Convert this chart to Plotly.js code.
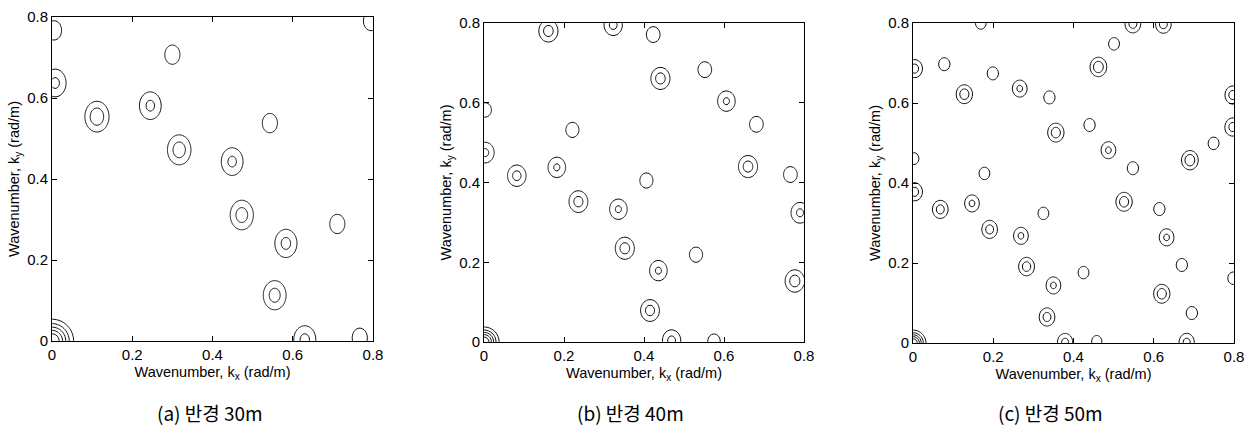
<!DOCTYPE html>
<html>
<head>
<meta charset="utf-8">
<script src="https://cdn.plot.ly/plotly-3.0.1.min.js"></script>
<style>html,body{margin:0;padding:0;background:#fff;}#chart{width:1250px;height:434px;}</style>
</head>
<body>
<div id="chart"></div>
<script>
// ---- Data: spectral peak centres (rad/m) and relative peak heights ----
// (a) radius 30 m
const a_kx  = [0.005, 0.300, 0.008, 0.112, 0.245, 0.543, 0.317, 0.449, 0.473, 0.711, 0.583, 0.555, 0.630, 0.767, 0.795];
const a_ky  = [0.767, 0.707, 0.637, 0.554, 0.581, 0.538, 0.472, 0.443, 0.311, 0.289, 0.241, 0.113, 0.003, 0.008, 0.790];
const a_amp = [1.40,  1.40,  2.00,  2.35,  2.00,  1.40,  2.25,  2.00,  2.20,  1.40,  2.05,  2.15,  2.05,  1.40,  1.40 ];
// (b) radius 40 m
const b_kx  = [0.161, 0.323, 0.423, 0.552, 0.441, 0.606, 0.681, 0.003, 0.221, 0.003, 0.082, 0.182, 0.406, 0.660, 0.766, 0.236, 0.336, 0.790, 0.352, 0.530, 0.436, 0.415, 0.777, 0.469, 0.575];
const b_ky  = [0.780, 0.795, 0.771, 0.683, 0.661, 0.604, 0.546, 0.582, 0.532, 0.475, 0.417, 0.438, 0.405, 0.440, 0.420, 0.352, 0.333, 0.324, 0.235, 0.219, 0.179, 0.079, 0.153, 0.004, 0.002];
const b_amp = [2.20,  2.05,  1.50,  1.50,  2.20,  1.95,  1.50,  1.40,  1.45,  2.00,  2.10,  1.95,  1.45,  2.20,  1.50,  2.15,  1.95,  2.00,  2.20,  1.45,  1.95,  2.15,  2.25,  2.05,  1.40 ];
// (c) radius 50 m
const c_kx  = [0.169, 0.548, 0.624, 0.501, 0.004, 0.078, 0.199, 0.462, 0.128, 0.266, 0.340, 0.797, 0.356, 0.440, 0.797, 0.487, 0.749, 0.690, 0.002, 0.178, 0.548, 0.004, 0.068, 0.147, 0.325, 0.526, 0.614, 0.191, 0.269, 0.632, 0.283, 0.425, 0.670, 0.350, 0.620, 0.798, 0.334, 0.695, 0.379, 0.458, 0.682];
const c_ky  = [0.800, 0.798, 0.797, 0.748, 0.686, 0.697, 0.674, 0.690, 0.622, 0.636, 0.614, 0.620, 0.526, 0.545, 0.540, 0.482, 0.499, 0.457, 0.461, 0.424, 0.437, 0.378, 0.334, 0.349, 0.324, 0.353, 0.335, 0.284, 0.268, 0.264, 0.191, 0.176, 0.195, 0.144, 0.123, 0.162, 0.065, 0.075, 0.002, 0.004, 0.002];
const c_amp = [1.45,  2.20,  2.20,  1.45,  2.20,  1.50,  1.50,  2.45,  2.35,  2.00,  1.50,  2.20,  2.35,  1.50,  2.20,  2.00,  1.45,  2.45,  1.40,  1.45,  1.50,  2.20,  2.20,  2.00,  1.45,  2.35,  1.50,  2.20,  2.00,  2.00,  2.25,  1.45,  1.50,  2.00,  2.35,  1.45,  2.20,  1.50,  2.10,  1.40,  2.10 ];

const tickVals = [0, 0.2, 0.4, 0.6, 0.8];
const tickText = ['0', '0.2', '0.4', '0.6', '0.8'];
const captions = ['(a) 반경 30m', '(b) 반경 40m', '(c) 반경 50m'];
const xTitle = 'Wavenumber, k<sub>x</sub> (rad/m)';
const yTitle = 'Wavenumber, k<sub>y</sub> (rad/m)';

// ---- Spectrum surface built from the peak list (gaussian blobs), drawn by Plotly's contour trace ----
function buildSurface(kx, ky, amp, sx, sy, originSig) {
  const n = 321, step = 0.8 / (n - 1);
  const xs = [], ys = [];
  for (let i = 0; i < n; i++) { xs.push(i * step); ys.push(i * step); }
  const z = [];
  for (let j = 0; j < n; j++) {
    const row = new Array(n).fill(0);
    const y = ys[j];
    for (let i = 0; i < n; i++) {
      const x = xs[i];
      let v = 0;
      for (let p = 0; p < kx.length; p++) {
        const dx = x - kx[p], dy = y - ky[p];
        if (Math.abs(dx) > 0.12 || Math.abs(dy) > 0.12) continue;
        v += amp[p] * Math.exp(-(dx * dx) / (2 * sx * sx) - (dy * dy) / (2 * sy * sy));
      }
      // low-wavenumber peak at the origin
      v += 5 * Math.exp(-(x * x + y * y) / (2 * originSig * originSig));
      row[i] = v;
    }
    z.push(row);
  }
  return {xs, ys, z};
}

const panels = [
  {kx: a_kx, ky: a_ky, amp: a_amp, sx: 0.023, sy: 0.029, os: 0.030},
  {kx: b_kx, ky: b_ky, amp: b_amp, sx: 0.019, sy: 0.022, os: 0.021},
  {kx: c_kx, ky: c_ky, amp: c_amp, sx: 0.0155, sy: 0.018, os: 0.018}
];

const W = 1250, H = 434;
const boxes = [
  {x0: 52, x1: 373, yTop: 17, yBot: 341},
  {x0: 484, x1: 804, yTop: 23, yBot: 342},
  {x0: 913, x1: 1234, yTop: 23, yBot: 343}
];
const capX = [210, 630, 1050];
const FONT = 'Liberation Sans';

function makeAxis(domain, anchor, titleText) {
  return {
    domain: domain, anchor: anchor,
    range: [0, 0.8], tickvals: tickVals.slice(), ticktext: tickText.slice(),
    ticks: 'inside', ticklen: 5, tickwidth: 1, tickcolor: '#000',
    showline: true, linecolor: '#000', linewidth: 1, mirror: 'ticks',
    showgrid: false, zeroline: false,
    tickfont: {size: 15, family: FONT, color: '#000'},
    title: {text: titleText, standoff: 4, font: {size: 14.5, family: FONT, color: '#000'}}
  };
}

const traces = [];
const layout = {
  width: W, height: H,
  margin: {l: 0, r: 0, t: 0, b: 0},
  paper_bgcolor: '#fff', plot_bgcolor: '#fff',
  showlegend: false,
  font: {family: FONT, size: 15, color: '#000'},
  annotations: []
};

panels.forEach((p, k) => {
  const s = buildSurface(p.kx, p.ky, p.amp, p.sx, p.sy, p.os);
  const sfx = k === 0 ? '' : String(k + 1);
  traces.push({
    type: 'contour', x: s.xs, y: s.ys, z: s.z,
    xaxis: 'x' + sfx, yaxis: 'y' + sfx,
    contours: {coloring: 'lines', start: 1, end: 4.3, size: 0.8, showlabels: false},
    line: {width: 1, smoothing: 1},
    colorscale: [[0, '#111'], [1, '#111']],
    showscale: false, hoverinfo: 'skip'
  });
  const b = boxes[k];
  layout['xaxis' + sfx] = makeAxis([b.x0 / W, b.x1 / W], 'y' + sfx, xTitle);
  layout['yaxis' + sfx] = makeAxis([(H - b.yBot) / H, (H - b.yTop) / H], 'x' + sfx, yTitle);
  layout.annotations.push({
    xref: 'paper', yref: 'paper', x: capX[k] / W, y: (H - 412) / H,
    xanchor: 'center', yanchor: 'middle', showarrow: false,
    text: captions[k],
    font: {family: 'Noto Sans CJK KR', size: 19, color: '#000'}
  });
});

Plotly.newPlot('chart', traces, layout, {staticPlot: true, displayModeBar: false});
</script>
</body>
</html>
